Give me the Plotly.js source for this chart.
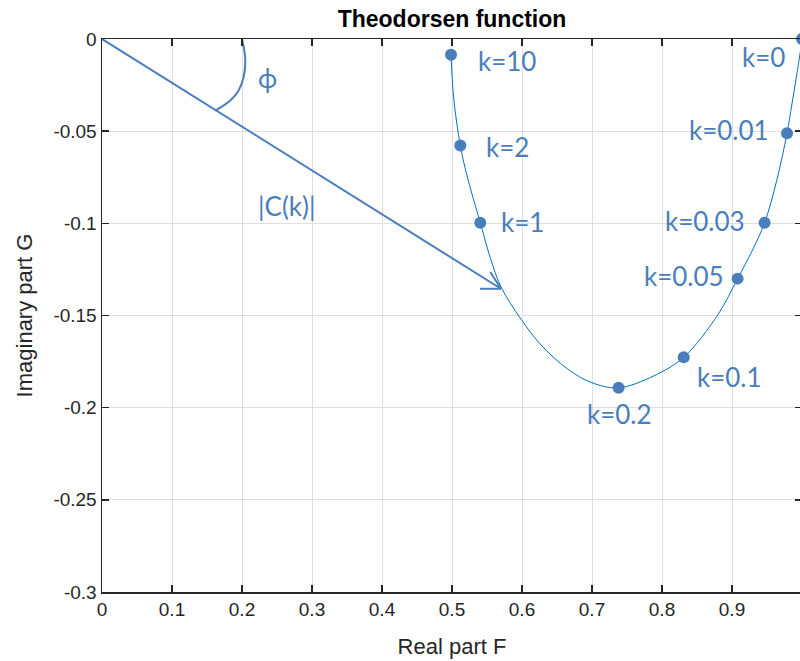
<!DOCTYPE html>
<html>
<head>
<meta charset="utf-8">
<script src="https://cdn.plot.ly/plotly-3.0.1.min.js"></script>
<style>
html, body { margin: 0; padding: 0; overflow: hidden; background: #ffffff; }
#chart { width: 802px; height: 661px; }
</style>
</head>
<body>
<div id="chart"></div>
<script>
// Marked points of the Theodorsen function C(k) = F + iG
var kLabels = ['k=10', 'k=2', 'k=1', 'k=0.2', 'k=0.1', 'k=0.05', 'k=0.03', 'k=0.01', 'k=0'];
var markF = [0.4986, 0.5119, 0.5404, 0.738, 0.831, 0.908, 0.9466, 0.9786, 1.0];
var markG = [-0.0086, -0.0578, -0.0997, -0.1892, -0.1726, -0.130, -0.0997, -0.0511, 0.0];

// Curve (k from 10 down to 0)
var curveF = [0.4986, 0.5023, 0.5119, 0.521, 0.5404, 0.555, 0.570, 0.5986, 0.626, 0.665, 0.700, 0.738, 0.788, 0.831, 0.880, 0.908, 0.928, 0.9466, 0.964, 0.9786, 0.9857, 0.997, 1.0];
var curveG = [-0.0086, -0.0316, -0.0578, -0.0735, -0.0997, -0.119, -0.1345, -0.152, -0.1655, -0.179, -0.1865, -0.1892, -0.1828, -0.1726, -0.1495, -0.130, -0.1155, -0.0997, -0.0766, -0.0511, -0.0351, -0.0085, 0.0];

// Angle arc (phi)
var arcF = [0.2, 0.2033, 0.2047, 0.2023, 0.1951, 0.1833, 0.1619];
var arcG = [0.0, -0.0062, -0.0117, -0.0207, -0.0279, -0.0334, -0.0388];

// |C(k)| arrow: from origin to tip
var arrowStart = [0, 0];
var arrowTip = [0.570, -0.1355];

// Label offsets (pixels) relative to each marker
var labelDX = [56, 47, 42, 1, 46, -54, -60, -58, -39];
var labelDY = [-6, -1, 1, -26, -20, 3, 2, 3, -18];

var blue = '#4a7ebb';
var labelFont = {family: 'Lato, "Open Sans", sans-serif', size: 26, color: blue};

var traces = [
  {
    x: curveF, y: curveG, type: 'scatter', mode: 'lines',
    line: {color: '#0072bd', width: 1, shape: 'spline', smoothing: 1},
    hoverinfo: 'skip', showlegend: false
  },
  {
    x: arcF, y: arcG, type: 'scatter', mode: 'lines',
    line: {color: blue, width: 2, shape: 'spline', smoothing: 1},
    hoverinfo: 'skip', showlegend: false
  },
  {
    x: markF, y: markG, type: 'scatter', mode: 'markers',
    marker: {color: blue, size: 12},
    cliponaxis: false, showlegend: false
  }
];

var annotations = kLabels.map(function (t, i) {
  return {
    x: markF[i], y: markG[i], xref: 'x', yref: 'y',
    text: t, showarrow: false, font: labelFont,
    xanchor: 'center', yanchor: 'middle',
    xshift: labelDX[i], yshift: labelDY[i]
  };
});
annotations.push({
  x: arcF[2], y: arcG[2], xref: 'x', yref: 'y', text: 'ϕ', showarrow: false,
  font: labelFont, xanchor: 'center', yanchor: 'middle', xshift: 22, yshift: -17
});
annotations.push({
  x: arrowTip[0] * 0.5, y: arrowTip[1] * 0.5, xref: 'x', yref: 'y', text: '|C(k)|',
  showarrow: false, font: labelFont, xanchor: 'center', yanchor: 'middle',
  xshift: -15, yshift: -42
});

// arrow shaft and open head (head barbs given in pixels relative to the tip)
var arrowLine = {color: blue, width: 2};
var shapes = [
  {type: 'line', xref: 'x', yref: 'y', x0: arrowStart[0], y0: arrowStart[1],
   x1: arrowTip[0], y1: arrowTip[1], line: arrowLine, layer: 'above'},
  {type: 'line', xref: 'x', yref: 'y', xsizemode: 'pixel', ysizemode: 'pixel',
   xanchor: arrowTip[0], yanchor: arrowTip[1], x0: 0, y0: 0, x1: -21, y1: 0,
   line: arrowLine, layer: 'above'},
  {type: 'line', xref: 'x', yref: 'y', xsizemode: 'pixel', ysizemode: 'pixel',
   xanchor: arrowTip[0], yanchor: arrowTip[1], x0: 0, y0: 0, x1: -10.7, y1: 16.8,
   line: arrowLine, layer: 'above'}
];

var axisCommon = {
  showline: true, linecolor: '#262626', linewidth: 1.5, mirror: 'ticks',
  ticks: 'inside', ticklen: 7, tickwidth: 1.5, tickcolor: '#262626',
  showgrid: true, gridcolor: '#dfdfdf', gridwidth: 1, zeroline: false,
  tickfont: {family: '"Liberation Sans", Arial, sans-serif', size: 19, color: '#262626'}
};

var layout = {
  width: 802, height: 661,
  margin: {l: 101.7, r: 0.3, t: 38.5, b: 69.3},
  paper_bgcolor: '#ffffff', plot_bgcolor: '#ffffff',
  title: {
    text: '<b>Theodorsen function</b>',
    font: {family: '"Liberation Sans", Arial, sans-serif', size: 23, color: '#000000'},
    xref: 'paper', x: 0.5, xanchor: 'center',
    yref: 'container', y: 1 - 19 / 661, yanchor: 'middle'
  },
  xaxis: Object.assign({}, axisCommon, {
    range: [0, 1], tickvals: [0, 0.1, 0.2, 0.3, 0.4, 0.5, 0.6, 0.7, 0.8, 0.9, 1],
    ticktext: ['0', '0.1', '0.2', '0.3', '0.4', '0.5', '0.6', '0.7', '0.8', '0.9', '1'],
    title: {text: 'Real part F', standoff: 19,
      font: {family: '"Liberation Sans", Arial, sans-serif', size: 22, color: '#262626'}}
  }),
  yaxis: Object.assign({}, axisCommon, {
    range: [-0.3, 0], tickvals: [-0.3, -0.25, -0.2, -0.15, -0.1, -0.05, 0],
    ticktext: ['-0.3', '-0.25', '-0.2', '-0.15', '-0.1', '-0.05', '0'],
    title: {text: 'Imaginary part G', standoff: 14,
      font: {family: '"Liberation Sans", Arial, sans-serif', size: 22, color: '#262626'}}
  }),
  annotations: annotations,
  shapes: shapes,
  showlegend: false
};

Plotly.newPlot('chart', traces, layout, {displayModeBar: false, staticPlot: true});
</script>
</body>
</html>
